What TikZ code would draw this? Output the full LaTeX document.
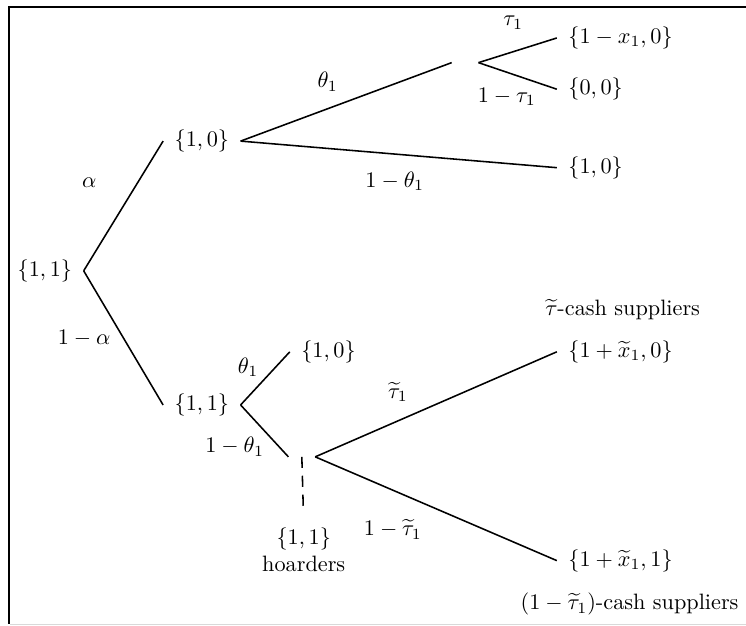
\documentclass[tikz,border=0pt]{standalone}
\usepackage{amsmath,amssymb}
\usepackage{xcolor}
\usepackage{tikz}
\usetikzlibrary{positioning}

\begin{document}
\begin{tikzpicture}[
  st/.style={inner sep=5pt},
  lf/.style={inner sep=5pt, anchor=west},
  gap/.style={inner sep=0pt, minimum width=0.41cm, minimum height=0pt},
  lbl/.style={inner sep=1pt},
  br/.style={line width=0.7pt}]
\useasboundingbox (0,0) rectangle (11.79,9.89);
% frame
\draw[line width=0.8pt] (0.14,0.03) -- (0.14,9.78) -- (11.79,9.78);
\draw[gray!30, line width=0.6pt] (0.16,0.02) -- (11.79,0.02);
% states
\node[st] (root) at (0.71,5.61) {$\{1,1\}$};
\node[st] (up) at (3.19,7.66) {$\{1,0\}$};
\node[st] (lo) at (3.19,3.49) {$\{1,1\}$};
\node[gap] (g1) at (7.35,8.90) {};
\node[gap] (g2) at (4.77,2.67) {};
\node[lf] (a1) at (8.80,9.29) {$\{1-x_1,0\}$};
\node[lf] (a2) at (8.80,8.48) {$\{0,0\}$};
\node[lf] (a3) at (8.80,7.24) {$\{1,0\}$};
\node[lf] (b1) at (4.58,4.33) {$\{1,0\}$};
\node[lf] (b2) at (8.80,4.33) {$\{1+\widetilde{x}_1,0\}$};
\node[lf] (b3) at (8.80,1.03) {$\{1+\widetilde{x}_1,1\}$};
\node[align=center, inner sep=2pt] (hoard) at (4.80,1.20) {$\{1,1\}$\\hoarders};
% branches
\draw[br] (root.east) -- (up.west);
\draw[br] (root.east) -- (lo.west);
\draw[br] (up.east) -- (g1.west);
\draw[br] (up.east) -- (a3.west);
\draw[br] (g1.east) -- (a1.west);
\draw[br] (g1.east) -- (a2.west);
\draw[br] (lo.east) -- (b1.west);
\draw[br] (lo.east) -- (g2.west);
\draw[br] (g2.east) -- (b2.west);
\draw[br] (g2.east) -- (b3.west);
\draw[br, dash pattern=on 5pt off 3.5pt, shorten >=4.5pt] (g2.center) -- (hoard.north);
% probabilities
\node[lbl] (pa) at (1.41,7.00) {$\alpha$};
\node[lbl] (pna) at (1.33,4.55) {$1-\alpha$};
\node[lbl] (pt) at (5.18,8.60) {$\theta_1$};
\node[lbl] (pnt) at (6.24,7.02) {$1-\theta_1$};
\node[lbl] (ptau) at (8.11,9.53) {$\tau_1$};
\node[lbl] (pntau) at (8.01,8.36) {$1-\tau_1$};
\node[lbl] (qt) at (3.92,4.09) {$\theta_1$};
\node[lbl] (qnt) at (3.71,2.83) {$1-\theta_1$};
\node[lbl] (qtau) at (6.29,3.70) {$\widetilde{\tau}_1$};
\node[lbl] (qntau) at (6.21,1.52) {$1-\widetilde{\tau}_1$};
\node[lbl] (cs1) at (9.84,5.00) {$\widetilde{\tau}$-cash suppliers};
\node[lbl] (cs2) at (9.95,0.34) {$(1-\widetilde{\tau}_1)$-cash suppliers};
\end{tikzpicture}
\end{document}
